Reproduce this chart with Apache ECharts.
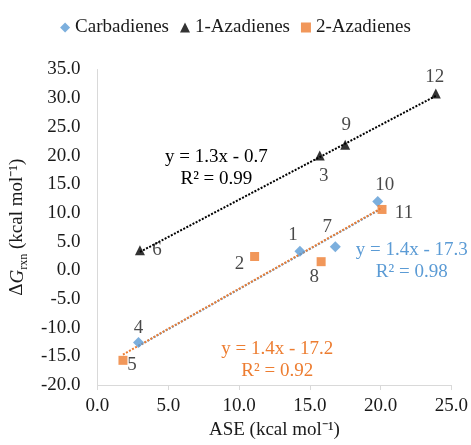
<!DOCTYPE html>
<html>
<head>
<meta charset="utf-8">
<script src="https://cdn.jsdelivr.net/npm/echarts@6/dist/echarts.min.js"></script>
<style>html,body{margin:0;padding:0;background:#fff;}#c{width:471px;height:445px;}</style>
</head>
<body>
<div id="c"></div>
<script>
// ---- data ----
const carbIds = ['1', '4', '7', '10'];
const carbX = [14.3, 2.9, 16.8, 19.8];
const carbY = [3.3, -12.6, 4.1, 12.0];

const aza1Ids = ['3', '6', '9', '12'];
const aza1X = [15.7, 3.0, 17.5, 23.9];
const aza1Y = [20.0, 3.5, 21.9, 30.8];

const aza2Ids = ['2', '5', '8', '11'];
const aza2X = [11.1, 1.8, 15.8, 20.1];
const aza2Y = [2.4, -15.7, 1.5, 10.6];

// trendline end points
const trendAza1 = [[3.0, 3.2], [23.9, 30.4]];
const trendCarb = [[2.9, -13.2], [19.8, 10.4]];
const trendAza2 = [[1.8, -14.7], [20.1, 10.9]];

const xTicks = [0, 5, 10, 15, 20, 25];
const yTicks = [-20, -15, -10, -5, 0, 5, 10, 15, 20, 25, 30, 35];

const eqAza1 = ['y = 1.3x - 0.7', 'R² = 0.99'];
const eqCarb = ['y = 1.4x - 17.3', 'R² = 0.98'];
const eqAza2 = ['y = 1.4x - 17.2', 'R² = 0.92'];

// ---- styling / label placement ----
const FONT = 'Liberation Serif';
const FS = 19;
const TXT = '#1a1a1a';
const BLUE = '#5B9BD5', ORANGE = '#ED7D31', BLACK = '#000000';
const labelOffset = {
  '1': [-7, -16], '2': [-15, 8], '3': [4, 20], '4': [0, -15], '5': [9, 5], '6': [17, 0],
  '7': [-8, -20], '8': [-7, 15], '9': [1, -20], '10': [7, -16], '11': [22, 4], '12': [-1, -17]
};

function pts(ids, xs, ys) {
  return ids.map((id, i) => ({
    value: [xs[i], ys[i]],
    name: id,
    label: { show: true, position: 'inside', offset: labelOffset[id], formatter: id,
      fontFamily: FONT, fontSize: FS, color: TXT }
  }));
}

const chart = echarts.init(document.getElementById('c'));

// equation annotation text placed at data coordinates
function eqText(lines, center, color) {
  const p = chart.convertToPixel({ gridIndex: 0 }, center);
  return {
    type: 'text', x: p[0], y: p[1], z: 10,
    style: { text: lines.join('\n'), fill: color, fontFamily: FONT, fontSize: FS, align: 'center',
      verticalAlign: 'middle', lineHeight: 22 }
  };
}

const option = {
  animation: false,
  legend: {
    top: 13, left: 'center',
    itemWidth: 10, itemHeight: 10, itemGap: 11,
    textStyle: { fontFamily: FONT, fontSize: FS, color: TXT },
    data: [
      { name: 'Carbadienes', icon: 'diamond' },
      { name: '1-Azadienes', icon: 'triangle' },
      { name: '2-Azadienes', icon: 'rect' }
    ]
  },
  grid: { left: 96, right: 18, top: 69.5, bottom: 53.3 },
  xAxis: {
    type: 'value', min: xTicks[0], max: xTicks[xTicks.length - 1], interval: 5,
    name: 'ASE (kcal mol⁻¹)', nameLocation: 'middle', nameGap: 36,
    nameTextStyle: { fontFamily: FONT, fontSize: FS, color: TXT },
    axisLine: { show: true, onZero: false, lineStyle: { color: '#d9d9d9', width: 1 } },
    axisTick: { show: true, length: 5, lineStyle: { color: '#d9d9d9' } },
    splitLine: { show: false },
    axisLabel: { margin: 12, fontFamily: FONT, fontSize: FS, color: TXT, formatter: v => v.toFixed(1) }
  },
  yAxis: {
    type: 'value', min: yTicks[0], max: yTicks[yTicks.length - 1], interval: 5,
    name: '{a|Δ}{g|G}{s|rxn}{a| (kcal mol⁻¹)}', nameLocation: 'middle', nameGap: 60, nameRotate: 90,
    nameTextStyle: {
      fontFamily: FONT, fontSize: FS, color: TXT,
      rich: {
        a: { fontFamily: FONT, fontSize: FS, color: TXT, lineHeight: 22, verticalAlign: 'bottom' },
        g: { fontFamily: FONT, fontSize: FS, color: TXT, fontStyle: 'italic', lineHeight: 22, verticalAlign: 'bottom' },
        s: { fontFamily: FONT, fontSize: 12, color: TXT, lineHeight: 22, verticalAlign: 'bottom', padding: [0, 0, -3, 0] }
      }
    },
    axisLine: { show: true, onZero: false, lineStyle: { color: '#d9d9d9', width: 1 } },
    axisTick: { show: false },
    splitLine: { show: false },
    axisLabel: { margin: 17, fontFamily: FONT, fontSize: FS, color: TXT, formatter: v => v.toFixed(1) }
  },
  series: [
    { name: 'trend-aza1', type: 'line', data: trendAza1, showSymbol: false, symbol: 'none', z: 1,
      lineStyle: { color: BLACK, width: 2, type: [2, 1.5] }, silent: true },
    { name: 'trend-carb', type: 'line', data: trendCarb, showSymbol: false, symbol: 'none', z: 1,
      lineStyle: { color: BLUE, width: 2, type: [2, 1.5] }, silent: true },
    { name: 'trend-aza2', type: 'line', data: trendAza2, showSymbol: false, symbol: 'none', z: 1,
      lineStyle: { color: ORANGE, width: 2, type: [2, 1.5] }, silent: true },
    { name: 'Carbadienes', type: 'scatter', symbol: 'diamond', symbolSize: 11, z: 3,
      itemStyle: { color: BLUE }, data: pts(carbIds, carbX, carbY) },
    { name: '1-Azadienes', type: 'scatter', symbol: 'triangle', symbolSize: 10, z: 3,
      itemStyle: { color: BLACK }, data: pts(aza1Ids, aza1X, aza1Y) },
    { name: '2-Azadienes', type: 'scatter', symbol: 'rect', symbolSize: 9, z: 3,
      itemStyle: { color: ORANGE }, data: pts(aza2Ids, aza2X, aza2Y) }
  ]
};
chart.setOption(option);
chart.setOption({
  graphic: [
    eqText(eqAza1, [8.4, 17.8], BLACK),
    eqText(eqCarb, [22.2, 1.7], BLUE),
    eqText(eqAza2, [12.7, -15.6], ORANGE)
  ]
});
</script>
</body>
</html>
